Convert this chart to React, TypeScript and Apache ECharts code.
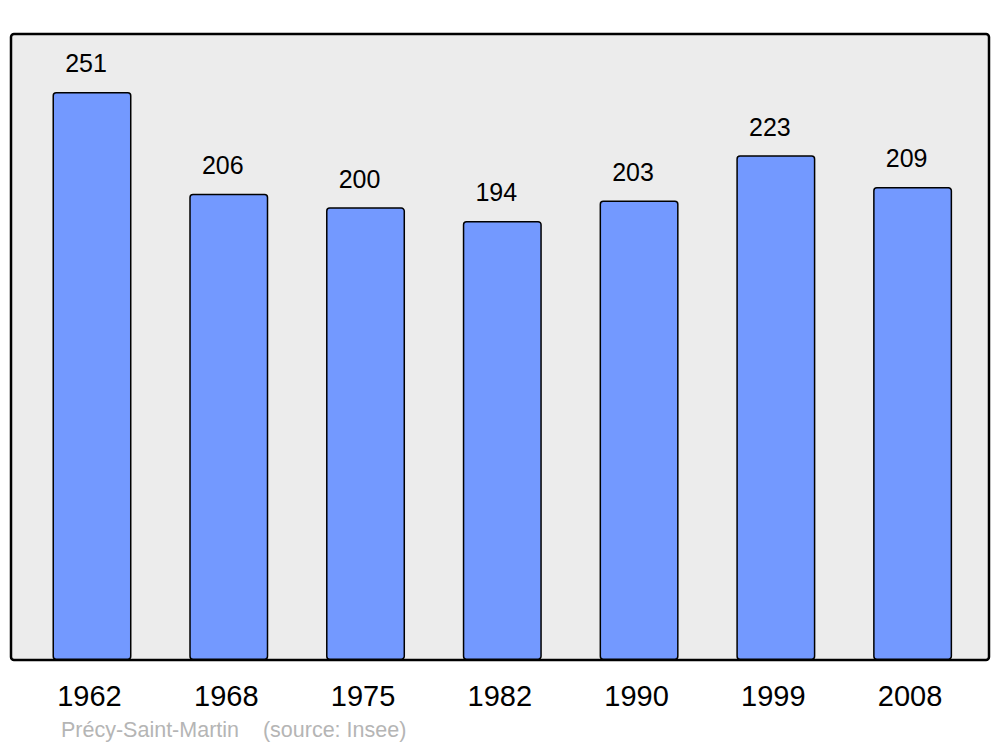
import React, { useEffect, useRef } from "react";
import * as echarts from "echarts";

const years = ["1962", "1968", "1975", "1982", "1990", "1999", "2008"];
const population = [251, 206, 200, 194, 203, 223, 209];
const yMax = 276.6;
const sourceText = "Précy-Saint-Martin    (source: Insee)";

export default function App() {
  const ref = useRef<HTMLDivElement>(null);
  useEffect(() => {
    if (!ref.current) return;
    const chart = echarts.init(ref.current, null, { renderer: "svg" });
    const font = "'Liberation Sans', Arial, sans-serif";
    chart.setOption({
      animation: false,
      backgroundColor: "#ffffff",
      textStyle: { fontFamily: font },
      grid: { left: 23.6, right: 19, top: 34, bottom: 87, containLabel: false },
      xAxis: {
        type: "category",
        data: years,
        axisLine: { show: false },
        axisTick: { show: false },
        axisLabel: { color: "#000", fontSize: 29, margin: 21, fontFamily: font, padding: [0, 5, 0, 0] },
      },
      yAxis: {
        type: "value",
        min: 0,
        max: yMax,
        show: false,
        splitLine: { show: false },
      },
      graphic: [
        {
          type: "rect",
          z: -10,
          shape: { x: 11, y: 34, width: 978, height: 626, r: 3 },
          style: { fill: "#ececec", stroke: "#000", lineWidth: 2.5 },
        },
        {
          type: "text",
          x: 61,
          y: 730,
          style: {
            text: sourceText,
            fill: "#b5b5b5",
            fontSize: 21.5,
            fontFamily: font,
            verticalAlign: "middle",
            align: "left",
          },
        },
      ],
      series: [
        {
          type: "bar",
          data: population,
          barWidth: 79,
          itemStyle: {
            color: "#7399ff",
            borderColor: "#000",
            borderWidth: 1.5,
            borderRadius: 3,
          },
          label: {
            show: true,
            position: "top",
            distance: 16,
            offset: [-6, 0],
            color: "#000",
            fontSize: 25,
            fontFamily: font,
          },
        },
      ],
    });
    return () => chart.dispose();
  }, []);
  return <div ref={ref} style={{ width: 1000, height: 747, position: "absolute", left: 0, top: 0 }} />;
}
